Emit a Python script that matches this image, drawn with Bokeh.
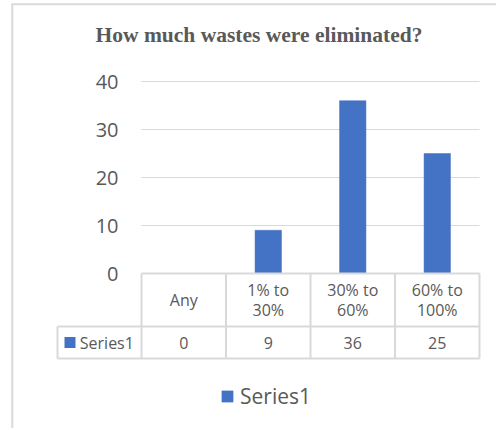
from bokeh.plotting import figure
from bokeh.models import Range1d, FixedTicker, ColumnDataSource
from bokeh.core.properties import value
from bokeh.embed import file_html
from bokeh.resources import INLINE

# ---- data ----
categories = ["Any", "1% to 30%", "30% to 60%", "60% to 100%"]
header_labels = ["Any", "1% to\n30%", "30% to\n60%", "60% to\n100%"]
series_name = "Series1"
values = [0, 9, 36, 25]
y_ticks = [0, 10, 20, 30, 40]
title_text = "How much wastes were eliminated?"

# ---- layout (pixels) ----
W, H = 496, 428
X0 = 141.0          # left edge of first category column
CAT_W = 84.5        # width of one category column
Y0 = 273.0          # pixel row of value 0
PX_PER_UNIT = 4.8   # pixels per value unit
ROW_LEFT = 57.0     # left edge of series label cell
ROW_MID = 326.0     # divider between header row and value row
ROW_BOT = 358.0     # bottom of table
BORDER_X = 11.8
BORDER_Y = 3.8

TEXT = "#595959"
LINE = "#d9d9d9"
BAR = "#4472C4"
FONT = "Open Sans"


def dx(px):
    return (px - X0) / CAT_W


def dy(py):
    return (Y0 - py) / PX_PER_UNIT


n = len(categories)
xs = [i + 0.5 for i in range(n)]

p = figure(width=W, height=H, output_backend="svg", toolbar_location=None,
           x_range=Range1d(dx(0), dx(W)), y_range=Range1d(dy(H), dy(0)),
           x_axis_location=None, min_border=0, title=None)
p.outline_line_color = None
p.background_fill_color = "white"
p.border_fill_color = "white"
p.xgrid.visible = False
p.ygrid.visible = False

ax = p.yaxis[0]
ax.fixed_location = 0
ax.ticker = FixedTicker(ticks=y_ticks)
ax.axis_line_color = None
ax.major_tick_line_color = None
ax.minor_tick_line_color = None
ax.major_tick_out = 0
ax.major_tick_in = 0
ax.minor_tick_out = 0
ax.major_label_standoff = 23
ax.major_label_text_font = FONT
ax.major_label_text_font_size = "20px"
ax.major_label_text_color = TEXT

# chart border (left and top edges)
p.segment(x0=[dx(BORDER_X), dx(BORDER_X - 1)], x1=[dx(BORDER_X), dx(W)],
          y0=[dy(BORDER_Y), dy(BORDER_Y)], y1=[dy(H), dy(BORDER_Y)],
          line_color=LINE, line_width=2)

# gridlines
grid_ticks = [t for t in y_ticks if t != 0]
p.segment(x0=[0] * len(grid_ticks), x1=[n] * len(grid_ticks), y0=grid_ticks, y1=grid_ticks,
          line_color=LINE, line_width=1.2)

# bars
src = ColumnDataSource(dict(x=xs, top=values, cat=categories))
p.vbar(x="x", top="top", width=0.3125, source=src, fill_color=BAR, line_color=BAR,
       line_width=0.5, legend_label=series_name)

# data table lines
hx0 = [0, dx(ROW_LEFT), dx(ROW_LEFT)]
hx1 = [n, n, n]
hy = [0, dy(ROW_MID), dy(ROW_BOT)]
p.segment(x0=hx0, x1=hx1, y0=hy, y1=hy, line_color=LINE, line_width=2)
vx = list(range(n + 1)) + [dx(ROW_LEFT)]
vy0 = [0] * (n + 1) + [dy(ROW_MID)]
vy1 = [dy(ROW_BOT)] * (n + 2)
p.segment(x0=vx, x1=vx, y0=vy0, y1=vy1, line_color=LINE, line_width=2)

# table header and values
p.text(x=xs, y=[dy((Y0 + ROW_MID) / 2)] * n, text=header_labels,
       text_align="center", text_baseline="middle", text_font=value(FONT),
       text_font_size="16px", text_color=TEXT, text_line_height=0.92)
p.text(x=xs, y=[dy((ROW_MID + ROW_BOT) / 2)] * n, text=[str(v) for v in values],
       text_align="center", text_baseline="middle", text_font=value(FONT),
       text_font_size="16px", text_color=TEXT)

# series key in table
p.scatter(x=[dx(69.5)], y=[dy((ROW_MID + ROW_BOT) / 2)], marker="square", size=11,
          fill_color=BAR, line_color=None)
p.text(x=[dx(79.3)], y=[dy((ROW_MID + ROW_BOT) / 2)], text=[series_name],
       text_align="left", text_baseline="middle", text_font=value(FONT),
       text_font_size="16px", text_color=TEXT)

# title
p.text(x=[dx(258.5)], y=[dy(34.5)], text=[title_text], text_align="center",
       text_baseline="alphabetic", text_font=value("Liberation Serif"),
       text_font_style="bold", text_font_size="21.5px", text_color=TEXT)

# legend
lg = p.legend[0]
lg.location = (220, 20 - (430 - H))
lg.glyph_width = 14
lg.glyph_height = 14
lg.label_standoff = 6
lg.label_text_font = FONT
lg.label_text_font_size = "21px"
lg.label_text_color = TEXT
lg.border_line_color = None
lg.background_fill_alpha = 0
lg.padding = 0
lg.margin = 0

open("out.html", "w").write(file_html(p, INLINE))
